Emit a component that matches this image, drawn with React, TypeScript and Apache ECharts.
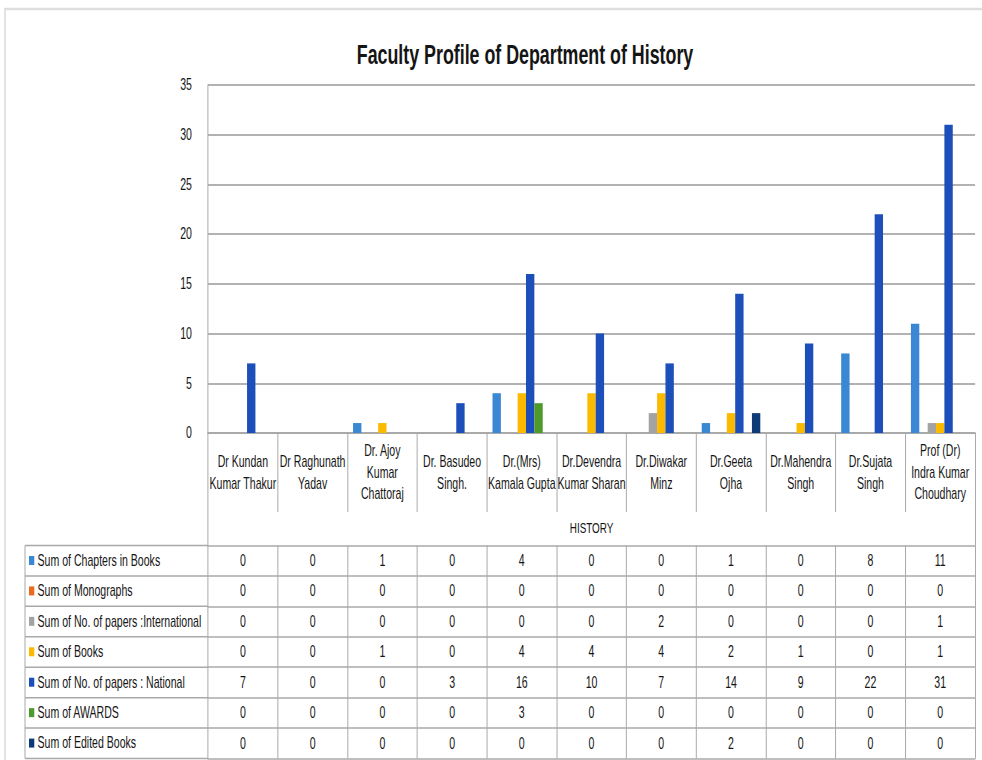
import React, { useEffect, useRef } from "react";
import * as echarts from "echarts";

const categories = [
  "Dr Kundan\nKumar Thakur",
  "Dr Raghunath\nYadav",
  "Dr. Ajoy\nKumar\nChattoraj",
  "Dr. Basudeo\nSingh.",
  "Dr.(Mrs)\nKamala Gupta",
  "Dr.Devendra\nKumar Sharan",
  "Dr.Diwakar\nMinz",
  "Dr.Geeta\nOjha",
  "Dr.Mahendra\nSingh",
  "Dr.Sujata\nSingh",
  "Prof (Dr)\nIndra Kumar\nChoudhary",
];

const groupLabel = "HISTORY";

const seriesNames = [
  "Sum of Chapters in Books",
  "Sum of Monographs",
  "Sum of No. of papers :International",
  "Sum of Books",
  "Sum of No. of papers : National",
  "Sum of AWARDS",
  "Sum of Edited Books",
];

const chapters = [0, 0, 1, 0, 4, 0, 0, 1, 0, 8, 11];
const monographs = [0, 0, 0, 0, 0, 0, 0, 0, 0, 0, 0];
const international = [0, 0, 0, 0, 0, 0, 2, 0, 0, 0, 1];
const books = [0, 0, 1, 0, 4, 4, 4, 2, 1, 0, 1];
const national = [7, 0, 0, 3, 16, 10, 7, 14, 9, 22, 31];
const awards = [0, 0, 0, 0, 3, 0, 0, 0, 0, 0, 0];
const edited = [0, 0, 0, 0, 0, 0, 0, 2, 0, 0, 0];

const seriesValues = [chapters, monographs, international, books, national, awards, edited];

const seriesColors = ["#3a87d4", "#e96b1d", "#a3a3a3", "#fbb900", "#1c4fba", "#4e9a2b", "#0f3a78"];

const yMin = 0;
const yMax = 35;
const yInterval = 5;

const FONT = "'Liberation Sans', Arial, sans-serif";
const TEXT = "#151515";
const LINE = "#a9a9a9";

// The reference is horizontally condensed; the chart is laid out on a wider
// canvas and squeezed with a CSS scaleX so that its texts look condensed too.
const S = 0.66;
const W = 982;
const H = 760;
const VW = W / S;
const vx = (x: number) => x / S;

const GRID_LEFT = vx(208);
const GRID_RIGHT = VW - vx(975);
const GRID_TOP = 85;
const GRID_BOTTOM = 327; // axis at y = 433
const AXIS_Y = H - GRID_BOTTOM;
const LABEL_BAND = 79;
const HISTORY_BAND = 33.5;
const TABLE_OFFSET = LABEL_BAND + HISTORY_BAND;
const ROW_H = 30.43;
const TABLE_LEFT = vx(25);

export default function App() {
  const ref = useRef<HTMLDivElement>(null);

  useEffect(() => {
    if (!ref.current) return;
    const chart = echarts.init(ref.current, undefined, { renderer: "svg" });

    const xAxes: any[] = [
      {
        type: "category",
        data: categories,
        position: "bottom",
        axisLine: { onZero: false, lineStyle: { color: LINE, width: 2 } },
        axisTick: { show: true, interval: 0, length: LABEL_BAND, lineStyle: { color: LINE, width: 1.5 } },
        axisLabel: {
          interval: 0,
          fontSize: 16,
          lineHeight: 21.7,
          color: TEXT,
          fontFamily: FONT,
          margin: LABEL_BAND / 2,
          verticalAlign: "middle",
        },
        splitLine: { show: false },
      },
      {
        type: "category",
        data: [groupLabel],
        position: "bottom",
        offset: LABEL_BAND,
        axisLine: { show: false, onZero: false },
        axisTick: { show: true, interval: 0, length: HISTORY_BAND, lineStyle: { color: LINE, width: 1.5 } },
        axisLabel: {
          fontSize: 15,
          color: TEXT,
          fontFamily: FONT,
          margin: HISTORY_BAND / 2,
          verticalAlign: "middle",
        },
      },
    ];

    seriesValues.forEach((vals, i) => {
      xAxes.push({
        type: "category",
        data: categories,
        position: "bottom",
        offset: TABLE_OFFSET + i * ROW_H,
        axisLine: { show: true, onZero: false, lineStyle: { color: LINE, width: 1.5 } },
        axisTick: { show: true, interval: 0, length: ROW_H, lineStyle: { color: LINE, width: 1.5 } },
        axisLabel: {
          interval: 0,
          fontSize: 16,
          color: TEXT,
          fontFamily: FONT,
          margin: ROW_H / 2,
          verticalAlign: "middle",
          formatter: (_v: string, idx: number) => String(vals[idx]),
        },
      });
    });
    xAxes.push({
      type: "category",
      data: categories,
      position: "bottom",
      offset: TABLE_OFFSET + seriesValues.length * ROW_H,
      axisLine: { show: true, onZero: false, lineStyle: { color: LINE, width: 1.5 } },
      axisTick: { show: false },
      axisLabel: { show: false },
    });

    const tableTop = AXIS_Y + TABLE_OFFSET;
    const graphics: any[] = [
      {
        type: "rect",
        shape: { x: vx(5), y: 9, width: VW + 40, height: H + 20 },
        style: { fill: "none", stroke: "#dedede", lineWidth: 2.5 },
        silent: true,
      },
      {
        type: "line",
        shape: { x1: TABLE_LEFT, y1: tableTop, x2: TABLE_LEFT, y2: tableTop + seriesValues.length * ROW_H },
        style: { stroke: LINE, lineWidth: 1.5 },
        silent: true,
      },
    ];
    for (let i = 0; i <= seriesValues.length; i++) {
      const y = tableTop + i * ROW_H;
      graphics.push({
        type: "line",
        shape: { x1: TABLE_LEFT, y1: y, x2: GRID_LEFT, y2: y },
        style: { stroke: LINE, lineWidth: 1.5 },
        silent: true,
      });
    }

    chart.setOption({
      animation: false,
      textStyle: { fontFamily: FONT },
      title: {
        text: "Faculty Profile of Department of History",
        left: vx(525) - 5,
        top: 36,
        textAlign: "center",
        textStyle: { fontSize: 27, fontWeight: "bold", color: TEXT, fontFamily: FONT },
      },
      legend: {
        data: seriesNames,
        orient: "vertical",
        left: vx(29),
        top: tableTop,
        padding: 0,
        itemGap: 0.43,
        itemWidth: 8,
        itemHeight: 9,
        icon: "rect",
        textStyle: { fontSize: 16, lineHeight: 30, color: TEXT, fontFamily: FONT },
      },
      grid: { left: GRID_LEFT, right: GRID_RIGHT, top: GRID_TOP, bottom: GRID_BOTTOM, containLabel: false },
      xAxis: xAxes,
      yAxis: {
        type: "value",
        min: yMin,
        max: yMax,
        interval: yInterval,
        axisLine: { show: true, onZero: false, lineStyle: { color: LINE, width: 1.5 } },
        axisTick: { show: false },
        axisLabel: { fontSize: 16, color: TEXT, fontFamily: FONT, margin: vx(16) },
        splitLine: { show: true, lineStyle: { color: "#b2b2b2", width: 2 } },
      },
      graphic: graphics,
      series: seriesNames.map((name, i) => ({
        name,
        type: "bar",
        xAxisIndex: 0,
        yAxisIndex: 0,
        data: seriesValues[i],
        itemStyle: { color: seriesColors[i] },
        barGap: "0%",
        barCategoryGap: "16%",
      })),
    });

    return () => chart.dispose();
  }, []);

  return (
    <div
      ref={ref}
      style={{
        position: "fixed",
        left: 0,
        top: 0,
        width: VW,
        height: H,
        background: "#ffffff",
        transform: `scaleX(${S})`,
        transformOrigin: "0 0",
      }}
    />
  );
}
